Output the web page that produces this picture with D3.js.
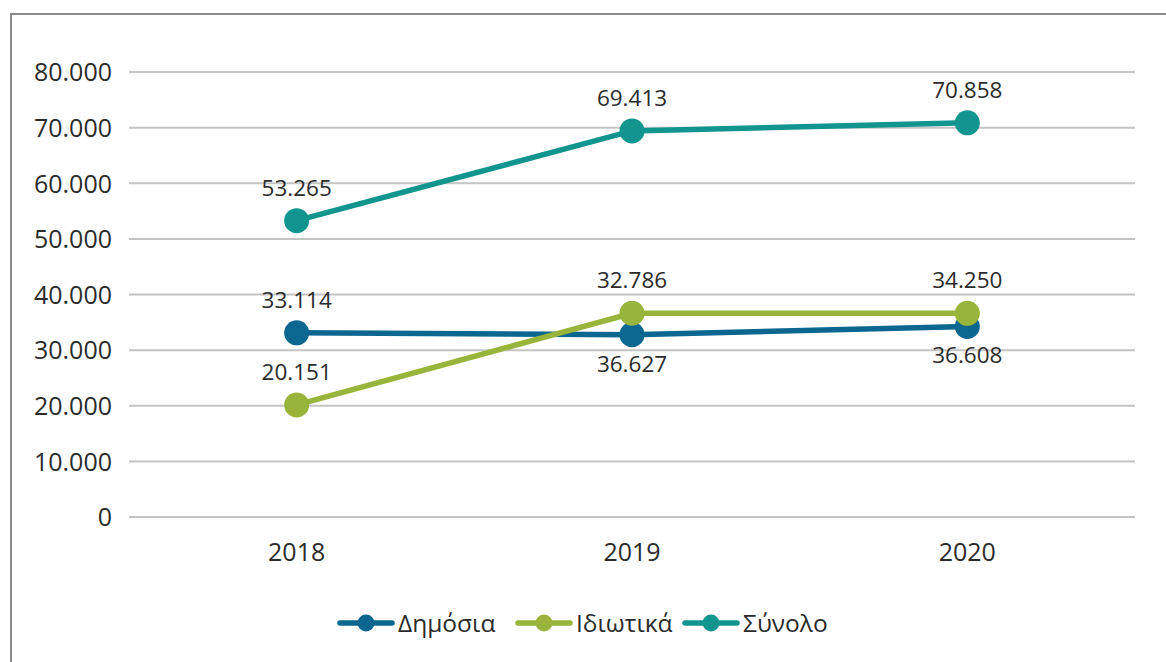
<!DOCTYPE html>
<html>
<head>
<meta charset="utf-8">
<script src="https://cdn.jsdelivr.net/npm/d3@7"></script>
<style>
  body { margin: 0; background: #fff; }
  text { font-family: "Open Sans", "Noto Sans", sans-serif; fill: #2b2b2b; }
</style>
</head>
<body>
<div id="chart"></div>
<script>
var years = ["2018", "2019", "2020"];
var seriesNames = ["Δημόσια", "Ιδιωτικά", "Σύνολο"];
var publicValues = [33114, 32786, 34250];
var privateValues = [20151, 36627, 36608];
var totalValues = [53265, 69413, 70858];
var yTicks = [0, 10000, 20000, 30000, 40000, 50000, 60000, 70000, 80000];
// where each value label sits: own = above its point, top = above the upper of the pair, bottom = below the lower
var publicLabelPos = ["own", "top", "top"];
var privateLabelPos = ["own", "bottom", "bottom"];
var totalLabelPos = ["own", "own", "own"];

var colors = ["#0b6690", "#98b43a", "#13958f"];

var svgWidth = 1166;
var svgHeight = 662;
var margin = { top: 72, right: 31, bottom: 145, left: 129 };
var width = svgWidth - margin.left - margin.right;
var height = svgHeight - margin.top - margin.bottom;

var svg = d3.select("#chart")
  .append("svg")
  .attr("width", svgWidth)
  .attr("height", svgHeight);

// outer frame (only top and left edges visible in the picture)
svg.append("path")
  .attr("d", "M11,670 V14 H1175")
  .attr("fill", "none")
  .attr("stroke", "#8a8a8a")
  .attr("stroke-width", 2);

var chartGroup = svg.append("g")
  .attr("transform", `translate(${margin.left}, ${margin.top})`);

var xScale = d3.scaleBand()
  .domain(years)
  .range([0, width]);

var yScale = d3.scaleLinear()
  .domain([0, 80000])
  .range([height, 0]);

var fmt = d3.formatLocale({ decimal: ",", thousands: ".", grouping: [3], currency: ["", "€"] }).format(",d");

// gridlines
chartGroup.append("g")
  .selectAll("line")
  .data(yTicks)
  .enter()
  .append("line")
  .attr("x1", 0)
  .attr("x2", width)
  .attr("y1", d => yScale(d))
  .attr("y2", d => yScale(d))
  .attr("stroke", "#c4c4c4")
  .attr("stroke-width", 2);

var leftAxis = d3.axisLeft(yScale).tickValues(yTicks).tickFormat(fmt).tickSize(0).tickPadding(17);
var yAxis = chartGroup.append("g").call(leftAxis);
yAxis.select(".domain").remove();
yAxis.selectAll("text")
  .attr("font-size", "25px")
  .attr("fill", "#2b2b2b")
  .attr("dy", "0.35em");

var bottomAxis = d3.axisBottom(xScale).tickSize(0).tickPadding(26);
var xAxis = chartGroup.append("g")
  .attr("transform", `translate(0, ${height})`)
  .call(bottomAxis);
xAxis.select(".domain").remove();
xAxis.selectAll("text")
  .attr("font-size", "25px")
  .attr("fill", "#2b2b2b");

var series = [
  { name: seriesNames[0], values: publicValues, labels: publicLabelPos, color: colors[0] },
  { name: seriesNames[1], values: privateValues, labels: privateLabelPos, color: colors[1] },
  { name: seriesNames[2], values: totalValues, labels: totalLabelPos, color: colors[2] }
];

var xc = d => xScale(d) + xScale.bandwidth() / 2;

var line = d3.line()
  .x(d => xc(d.year))
  .y(d => yScale(d.value));

series.forEach(function(s) {
  var pts = years.map((y, i) => ({ year: y, value: s.values[i], pos: s.labels[i], i: i }));
  chartGroup.append("path")
    .datum(pts)
    .attr("d", line)
    .attr("fill", "none")
    .attr("stroke", s.color)
    .attr("stroke-width", 5.5);
  chartGroup.selectAll(null)
    .data(pts)
    .enter()
    .append("circle")
    .attr("cx", d => xc(d.year))
    .attr("cy", d => yScale(d.value))
    .attr("r", 12.5)
    .attr("fill", s.color);
});

// value labels on top of everything
series.forEach(function(s) {
  var pts = years.map((y, i) => ({ year: y, value: s.values[i], pos: s.labels[i], i: i }));
  chartGroup.selectAll(null)
    .data(pts)
    .enter()
    .append("text")
    .attr("x", d => xc(d.year))
    .attr("y", function(d) {
      var hi = Math.max(publicValues[d.i], privateValues[d.i]);
      var lo = Math.min(publicValues[d.i], privateValues[d.i]);
      if (d.pos === "top") return yScale(hi) - 33;
      if (d.pos === "bottom") return yScale(lo) + 29;
      return yScale(d.value) - 33;
    })
    .attr("dy", "0.35em")
    .attr("text-anchor", "middle")
    .attr("font-size", "22.5px")
    .text(d => fmt(d.value));
});

// legend
var legendX = [340, 518, 685];
var legend = svg.append("g").attr("transform", "translate(0, 623)");
series.forEach(function(s, i) {
  var g = legend.append("g").attr("transform", `translate(${legendX[i]}, 0)`);
  g.append("line")
    .attr("x1", 0).attr("x2", 52)
    .attr("y1", 0).attr("y2", 0)
    .attr("stroke", s.color)
    .attr("stroke-width", 5.5)
    .attr("stroke-linecap", "round");
  g.append("circle")
    .attr("cx", 26).attr("cy", 0).attr("r", 8.5)
    .attr("fill", s.color);
  g.append("text")
    .attr("x", 58).attr("y", 0)
    .attr("dy", "0.35em")
    .attr("font-size", "24.5px")
    .text(s.name);
});
</script>
</body>
</html>
